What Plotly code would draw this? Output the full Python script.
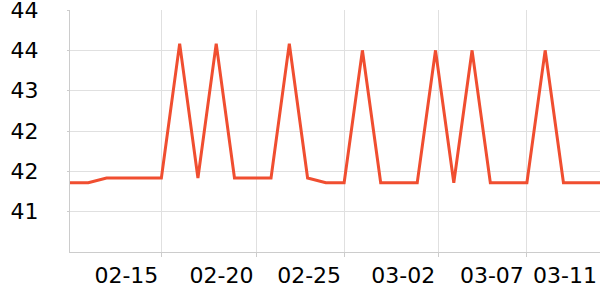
import plotly.graph_objects as go

dates = [
    "2025-02-10", "2025-02-11", "2025-02-12", "2025-02-13", "2025-02-14",
    "2025-02-15", "2025-02-16", "2025-02-17", "2025-02-18", "2025-02-19",
    "2025-02-20", "2025-02-21", "2025-02-22", "2025-02-23", "2025-02-24",
    "2025-02-25", "2025-02-26", "2025-02-27", "2025-02-28", "2025-03-01",
    "2025-03-02", "2025-03-03", "2025-03-04", "2025-03-05", "2025-03-06",
    "2025-03-07", "2025-03-08", "2025-03-09", "2025-03-10", "2025-03-11",
]
values = [
    41.63, 41.63, 41.7, 41.7, 41.7,
    41.7, 43.7, 41.7, 43.7, 41.7,
    41.7, 41.7, 43.7, 41.7, 41.63,
    41.63, 43.6, 41.63, 41.63, 41.63,
    43.6, 41.63, 43.6, 41.63, 41.63,
    41.63, 43.6, 41.63, 41.63, 41.63,
]

x_tickvals = ["2025-02-15", "2025-02-20 05:00", "2025-02-25",
              "2025-03-02 03:30", "2025-03-07", "2025-03-11"]
x_ticktext = ["02-15", "02-20", "02-25", "03-02", "03-07", "03-11"]

y_tickvals = [41.2, 41.8, 42.4, 43.0, 43.6, 44.2]
y_ticktext = ["41", "42", "42", "43", "44", "44"]

LINE_COLOR = "#f04e30"
GRID = "#e0e0e0"
AXIS = "#cccccc"
FONT = dict(family="DejaVu Sans", size=22, color="#000000")

fig = go.Figure(
    go.Scatter(
        x=dates, y=values, mode="lines",
        line=dict(color=LINE_COLOR, width=3),
        hoverinfo="x+y",
    )
)

fig.update_layout(
    width=600, height=300,
    margin=dict(l=70, r=0, t=10, b=48, autoexpand=False),
    paper_bgcolor="white", plot_bgcolor="white",
    showlegend=False,
    font=FONT,
)

fig.update_xaxes(
    type="date",
    range=[dates[0], dates[-1]],
    tickmode="array", tickvals=x_tickvals, ticktext=x_ticktext,
    showgrid=True, gridcolor=GRID, gridwidth=1,
    showline=True, linecolor=AXIS, linewidth=1,
    ticks="outside", ticklen=4, tickcolor=AXIS,
    ticklabelshift=-35,
    ticklabeloverflow="allow",
    automargin=False,
    tickfont=FONT,
    zeroline=False,
)

fig.update_yaxes(
    range=[40.6, 44.2],
    tickmode="array", tickvals=y_tickvals, ticktext=y_ticktext,
    showgrid=True, gridcolor=GRID, gridwidth=1,
    showline=True, linecolor=AXIS, linewidth=1,
    ticks="outside", ticklen=2, tickcolor=AXIS,
    ticklabelstandoff=24,
    ticklabeloverflow="allow",
    automargin=False,
    tickfont=FONT,
    zeroline=False,
)

fig.write_html("out.html")
